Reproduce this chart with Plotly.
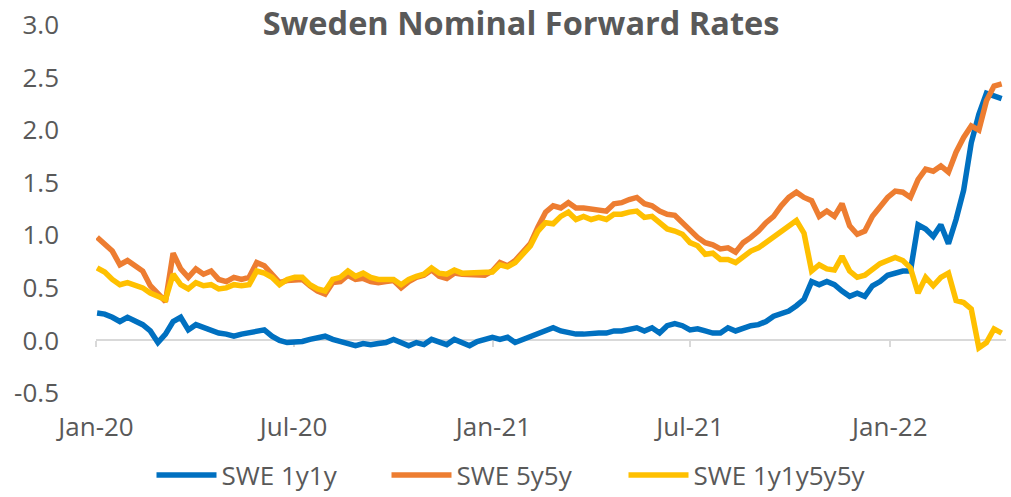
import pandas as pd
import plotly.graph_objects as go

# ---------------- data (weekly readings, first observation 2 Jan 2020) ----------------
start_date = "2020-01-02"

swe_1y1y = [
    0.26, 0.25, 0.22, 0.18, 0.22, 0.18, 0.15, 0.09, -0.02, 0.06,
    0.18, 0.22, 0.10, 0.15, 0.12, 0.10, 0.07, 0.06, 0.04, 0.06,
    0.07, 0.09, 0.10, 0.04, 0.00, -0.02, -0.02, -0.01, 0.01, 0.03,
    0.04, 0.01, -0.01, -0.02, -0.05, -0.03, -0.04, -0.03, -0.02, 0.01,
    -0.02, -0.05, -0.02, -0.04, 0.01, -0.01, -0.04, 0.01, -0.02, -0.05,
    -0.01, 0.01, 0.03, 0.01, 0.03, -0.02, 0.01, 0.04, 0.06, 0.09,
    0.12, 0.09, 0.07, 0.06, 0.06, 0.07, 0.07, 0.07, 0.09, 0.09,
    0.10, 0.12, 0.09, 0.12, 0.07, 0.14, 0.16, 0.14, 0.10, 0.11,
    0.09, 0.07, 0.07, 0.12, 0.09, 0.12, 0.14, 0.15, 0.18, 0.23,
    0.25, 0.28, 0.33, 0.39, 0.56, 0.53, 0.56, 0.53, 0.47, 0.42,
    0.45, 0.42, 0.52, 0.56, 0.62, 0.64, 0.66, 0.66, 1.10, 1.06,
    0.99, 1.10, 0.92, 1.15, 1.43, 1.88, 2.15, 2.35, 2.33, 2.30,
]

swe_5y5y = [
    0.98, 0.91, 0.85, 0.72, 0.76, 0.71, 0.66, 0.52, 0.44, 0.37,
    0.83, 0.68, 0.60, 0.68, 0.63, 0.66, 0.58, 0.56, 0.60, 0.58,
    0.60, 0.74, 0.71, 0.63, 0.55, 0.57, 0.57, 0.58, 0.52, 0.47,
    0.44, 0.55, 0.56, 0.62, 0.58, 0.59, 0.56, 0.55, 0.56, 0.57,
    0.50, 0.56, 0.60, 0.62, 0.67, 0.61, 0.59, 0.64, 0.63, 0.63,
    0.63, 0.62, 0.66, 0.74, 0.71, 0.76, 0.84, 0.92, 1.08, 1.22,
    1.28, 1.26, 1.31, 1.26, 1.26, 1.25, 1.25, 1.23, 1.30, 1.31,
    1.34, 1.36, 1.30, 1.28, 1.23, 1.20, 1.19, 1.12, 1.04, 0.98,
    0.93, 0.91, 0.87, 0.88, 0.84, 0.93, 0.98, 1.04, 1.12, 1.18,
    1.28, 1.36, 1.41, 1.36, 1.33, 1.18, 1.23, 1.18, 1.30, 1.09,
    1.01, 1.04, 1.18, 1.28, 1.36, 1.42, 1.41, 1.36, 1.53, 1.63,
    1.61, 1.66, 1.60, 1.79, 1.93, 2.04, 2.00, 2.28, 2.42, 2.44,
]

swe_1y1y5y5y = [
    0.69, 0.65, 0.58, 0.53, 0.55, 0.52, 0.50, 0.45, 0.42, 0.39,
    0.63, 0.53, 0.49, 0.55, 0.52, 0.53, 0.49, 0.50, 0.53, 0.52,
    0.53, 0.66, 0.64, 0.60, 0.53, 0.58, 0.60, 0.60, 0.53, 0.49,
    0.47, 0.58, 0.60, 0.66, 0.61, 0.64, 0.60, 0.58, 0.58, 0.58,
    0.53, 0.58, 0.61, 0.63, 0.69, 0.64, 0.63, 0.67, 0.64, 0.64,
    0.64, 0.64, 0.65, 0.72, 0.70, 0.74, 0.83, 0.90, 1.04, 1.12,
    1.11, 1.18, 1.22, 1.15, 1.18, 1.15, 1.17, 1.15, 1.20, 1.20,
    1.22, 1.23, 1.17, 1.18, 1.12, 1.06, 1.04, 1.01, 0.93, 0.90,
    0.82, 0.83, 0.77, 0.77, 0.74, 0.79, 0.85, 0.88, 0.93, 0.98,
    1.04, 1.09, 1.14, 1.02, 0.66, 0.72, 0.68, 0.67, 0.80, 0.66,
    0.60, 0.62, 0.68, 0.73, 0.76, 0.79, 0.76, 0.69, 0.45, 0.60,
    0.52, 0.60, 0.64, 0.38, 0.36, 0.30, -0.07, -0.02, 0.11, 0.07,
]

series_names = ["SWE 1y1y", "SWE 5y5y", "SWE 1y1y5y5y"]
series_colors = ["#0070C0", "#ED7D31", "#FFC000"]

tick_dates = ["2020-01-01", "2020-07-01", "2021-01-01", "2021-07-01", "2022-01-01"]
tick_labels = ["Jan-20", "Jul-20", "Jan-21", "Jul-21", "Jan-22"]
y_ticks = [-0.5, 0.0, 0.5, 1.0, 1.5, 2.0, 2.5, 3.0]
y_tick_labels = ["-0.5", "0.0", "0.5", "1.0", "1.5", "2.0", "2.5", "3.0"]

dates = pd.date_range(start_date, periods=len(swe_1y1y), freq="7D")

# ---------------- figure ----------------
W, H = 1011, 497
GREY = "#595959"
FONT = "Open Sans"
y_min, y_max = -0.5, 3.0

fig = go.Figure()
legend_ids = ["legend", "legend2", "legend3"]
for name, vals, col, lg in zip(series_names, [swe_1y1y, swe_5y5y, swe_1y1y5y5y],
                               series_colors, legend_ids):
    fig.add_trace(go.Scatter(
        x=dates, y=vals, name=name, mode="lines",
        line=dict(color=col, width=5.5), legend=lg,
    ))

# helper trace so that the zero-crossing axis (xaxis2) gets drawn
fig.add_trace(go.Scatter(x=[dates[0]], y=[None], xaxis="x2", yaxis="y",
                         showlegend=False, hoverinfo="skip", mode="lines"))

legend_x_px = [151.5, 386.5, 623.5]


def legend_cfg(xpx):
    return dict(
        orientation="h", xref="container", yref="container",
        x=xpx / W, xanchor="left", y=1 - 475 / H, yanchor="middle",
        font=dict(family=FONT, size=26, color=GREY),
        itemwidth=60, bgcolor="rgba(0,0,0,0)",
    )


fig.update_layout(
    width=W, height=H,
    margin=dict(l=96, r=5, t=25, b=104),
    paper_bgcolor="white", plot_bgcolor="white",
    font=dict(family=FONT, color=GREY, size=26),
    title=dict(text="<b>Sweden Nominal Forward Rates</b>", x=521 / W, xanchor="center",
               y=1 - 24 / H, yanchor="middle",
               font=dict(family=FONT, size=32.5, color=GREY)),
    xaxis=dict(
        type="date", range=["2020-01-01", "2022-04-18"],
        tickvals=tick_dates, ticktext=tick_labels,
        showgrid=False, zeroline=False, showline=False, ticks="",
        ticklabelstandoff=16, automargin=False, ticklabeloverflow="allow",
        tickfont=dict(family=FONT, size=26, color=GREY),
    ),
    xaxis2=dict(
        type="date", overlaying="x", matches="x", anchor="free",
        position=(0 - y_min) / (y_max - y_min),
        tickvals=tick_dates, showticklabels=False,
        showgrid=False, zeroline=False,
        showline=True, linecolor="#D9D9D9", linewidth=2,
        ticks="outside", ticklen=6, tickwidth=2, tickcolor="#D9D9D9",
        layer="below traces",
    ),
    yaxis=dict(
        range=[y_min, y_max], tickvals=y_ticks, ticktext=y_tick_labels,
        showgrid=False, zeroline=False, showline=False, ticks="",
        ticklabelstandoff=36, automargin=False, ticklabeloverflow="allow",
        tickfont=dict(family=FONT, size=26, color=GREY),
    ),
    legend=legend_cfg(legend_x_px[0]),
    legend2=legend_cfg(legend_x_px[1]),
    legend3=legend_cfg(legend_x_px[2]),
    showlegend=True,
)

# remove the browser's default 8px body margin so the figure fills the window
fig.write_html("out.html",
               config={"displayModeBar": False},
               post_script="document.body.style.margin='0px';"
                           "document.body.style.overflow='hidden';")
